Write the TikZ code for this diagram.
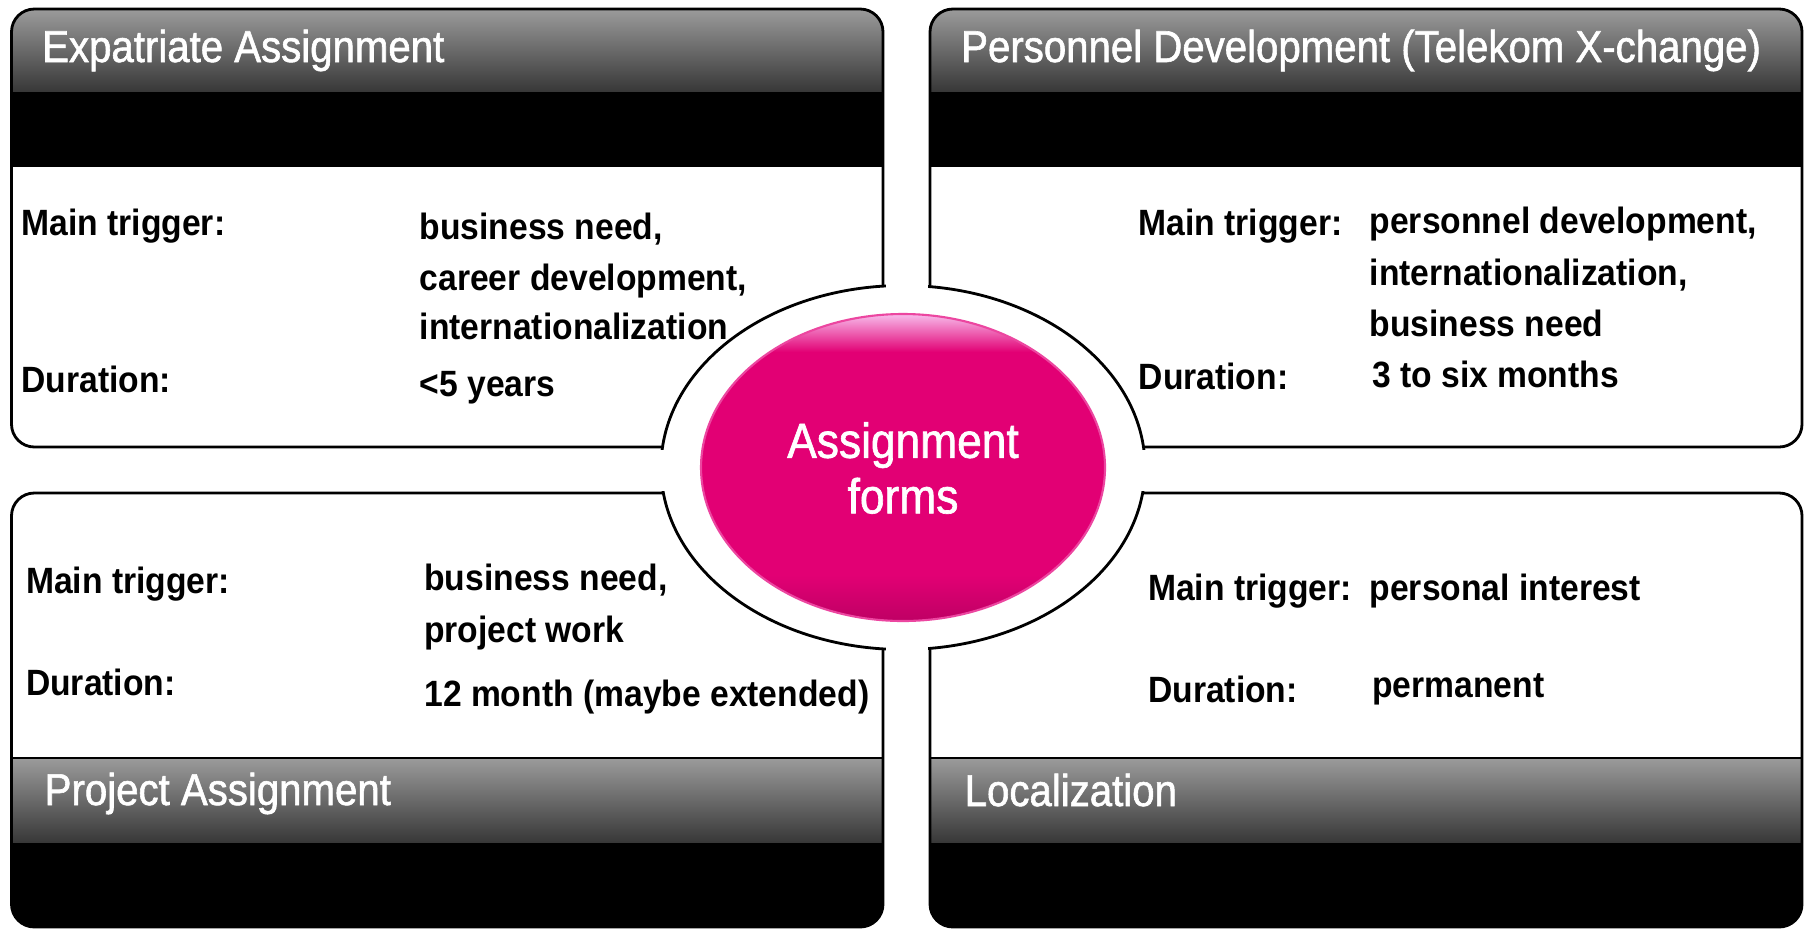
\documentclass[tikz,border=0pt]{standalone}
\usepackage{fontspec}
\setmainfont{Liberation Sans}[FakeStretch=0.92]
\newfontfamily\headfont{Liberation Sans}[FakeStretch=0.9, FakeBold=1.3]

\definecolor{telekom}{RGB}{226,0,116}
\definecolor{telekomdark}{RGB}{190,0,100}
\definecolor{telekomline}{RGB}{236,70,160}
\definecolor{pinkhi}{RGB}{248,192,238}
\definecolor{hdrtop}{RGB}{155,155,155}
\definecolor{hdrbot}{RGB}{55,55,55}

\begin{document}
\begin{tikzpicture}[x=0.01cm, y=-0.01cm,
	boxline/.style={draw=black, line width=0.8pt, rounded corners=6.5pt},
	head/.style={anchor=base west, inner sep=0pt, text=white, font=\headfont\fontsize{12.7}{15}\selectfont},
	txt/.style={anchor=base west, inner sep=0pt, font=\bfseries\fontsize{10.4}{12.5}\selectfont}]
	\useasboundingbox (0,0) rectangle (1810,930);

	% top boxes
	\begin{scope}
		\clip[rounded corners=6.5pt] (11.5,9) rectangle (883,447);
		\shade[top color=hdrtop, bottom color=hdrbot] (11.5,9) rectangle (883,92);
		\fill[black] (11.5,92) rectangle (883,167);
	\end{scope}
	\draw[boxline] (11.5,9) rectangle (883,447);
	\begin{scope}
		\clip[rounded corners=6.5pt] (930,9) rectangle (1802,447);
		\shade[top color=hdrtop, bottom color=hdrbot] (930,9) rectangle (1802,92);
		\fill[black] (930,92) rectangle (1802,167);
	\end{scope}
	\draw[boxline] (930,9) rectangle (1802,447);

	% bottom boxes
	\begin{scope}
		\clip[rounded corners=6.5pt] (11.5,493) rectangle (883,927);
		\shade[top color=hdrtop, bottom color=hdrbot] (11.5,758) rectangle (883,843);
		\fill[black] (11.5,843) rectangle (883,927);
	\end{scope}
	\draw[black, line width=0.8pt] (11.5,758) -- (883,758);
	\draw[boxline] (11.5,493) rectangle (883,927);
	\begin{scope}
		\clip[rounded corners=6.5pt] (930,493) rectangle (1802,927);
		\shade[top color=hdrtop, bottom color=hdrbot] (930,758) rectangle (1802,843);
		\fill[black] (930,843) rectangle (1802,927);
	\end{scope}
	\draw[black, line width=0.8pt] (930,758) -- (1802,758);
	\draw[boxline] (930,493) rectangle (1802,927);

	% ring round the centre, open in the gaps
	\draw[line width=0.8pt, fill=white] (903,467.5) ellipse [x radius=242, y radius=182];
	\fill[white] (885.5,270) rectangle (927.5,665);
	\fill[white] (640,449.5) rectangle (1170,490.5);

	% centre
	\fill[telekom] (903,467.5) ellipse [x radius=202, y radius=153.5];
	\begin{scope}
		\clip (903,467.5) ellipse [x radius=202, y radius=153.5];
		\shade[top color=pinkhi, bottom color=telekom] (690,313) rectangle (1110,352);
		\shade[top color=telekom, bottom color=telekomdark] (690,575) rectangle (1110,622);
	\end{scope}
	\draw[telekomline, line width=0.6pt] (903,467.5) ellipse [x radius=202, y radius=153.5];
	\node[align=center, text=white, font=\headfont\fontsize{14}{15.8}\selectfont] (forms) at (903,468) {Assignment\\forms};

	% headers
	\node[head] (expat) at (41.5,62) {Expatriate Assignment};
	\node[head] (xchange) at (960.5,62) {Personnel Development (Telekom X-change)};
	\node[head] (project) at (44,805) {Project Assignment};
	\node[head] (local) at (964,806) {Localization};

	% expatriate
	\node[txt] (expat-trig) at (20.8,235.5) {Main trigger:};
	\node[txt] (expat-t1) at (419,239) {business need,};
	\node[txt] (expat-t2) at (419,290) {career development,};
	\node[txt] (expat-t3) at (419,339) {internationalization};
	\node[txt] (expat-dur) at (20.8,392.5) {Duration:};
	\node[txt] (expat-d1) at (419,396) {<5 years};

	% x-change
	\node[txt] (xchange-trig) at (1138,235.5) {Main trigger:};
	\node[txt] (xchange-t1) at (1369,233) {personnel development,};
	\node[txt] (xchange-t2) at (1369,285) {internationalization,};
	\node[txt] (xchange-t3) at (1369,336) {business need};
	\node[txt] (xchange-dur) at (1138,389) {Duration:};
	\node[txt] (xchange-d1) at (1371.5,387) {3 to six months};

	% project
	\node[txt] (project-trig) at (25.4,593) {Main trigger:};
	\node[txt] (project-t1) at (423.6,590) {business need,};
	\node[txt] (project-t2) at (423.6,642) {project work};
	\node[txt] (project-dur) at (25.4,695) {Duration:};
	\node[txt] (project-d1) at (423.6,706.5) {12 month (maybe extended)};

	% localization
	\node[txt] (local-trig) at (1147.5,600) {Main trigger:};
	\node[txt] (local-t1) at (1369,600) {personal interest};
	\node[txt] (local-dur) at (1147.5,702) {Duration:};
	\node[txt] (local-d1) at (1371.5,697) {permanent};
\end{tikzpicture}
\end{document}
